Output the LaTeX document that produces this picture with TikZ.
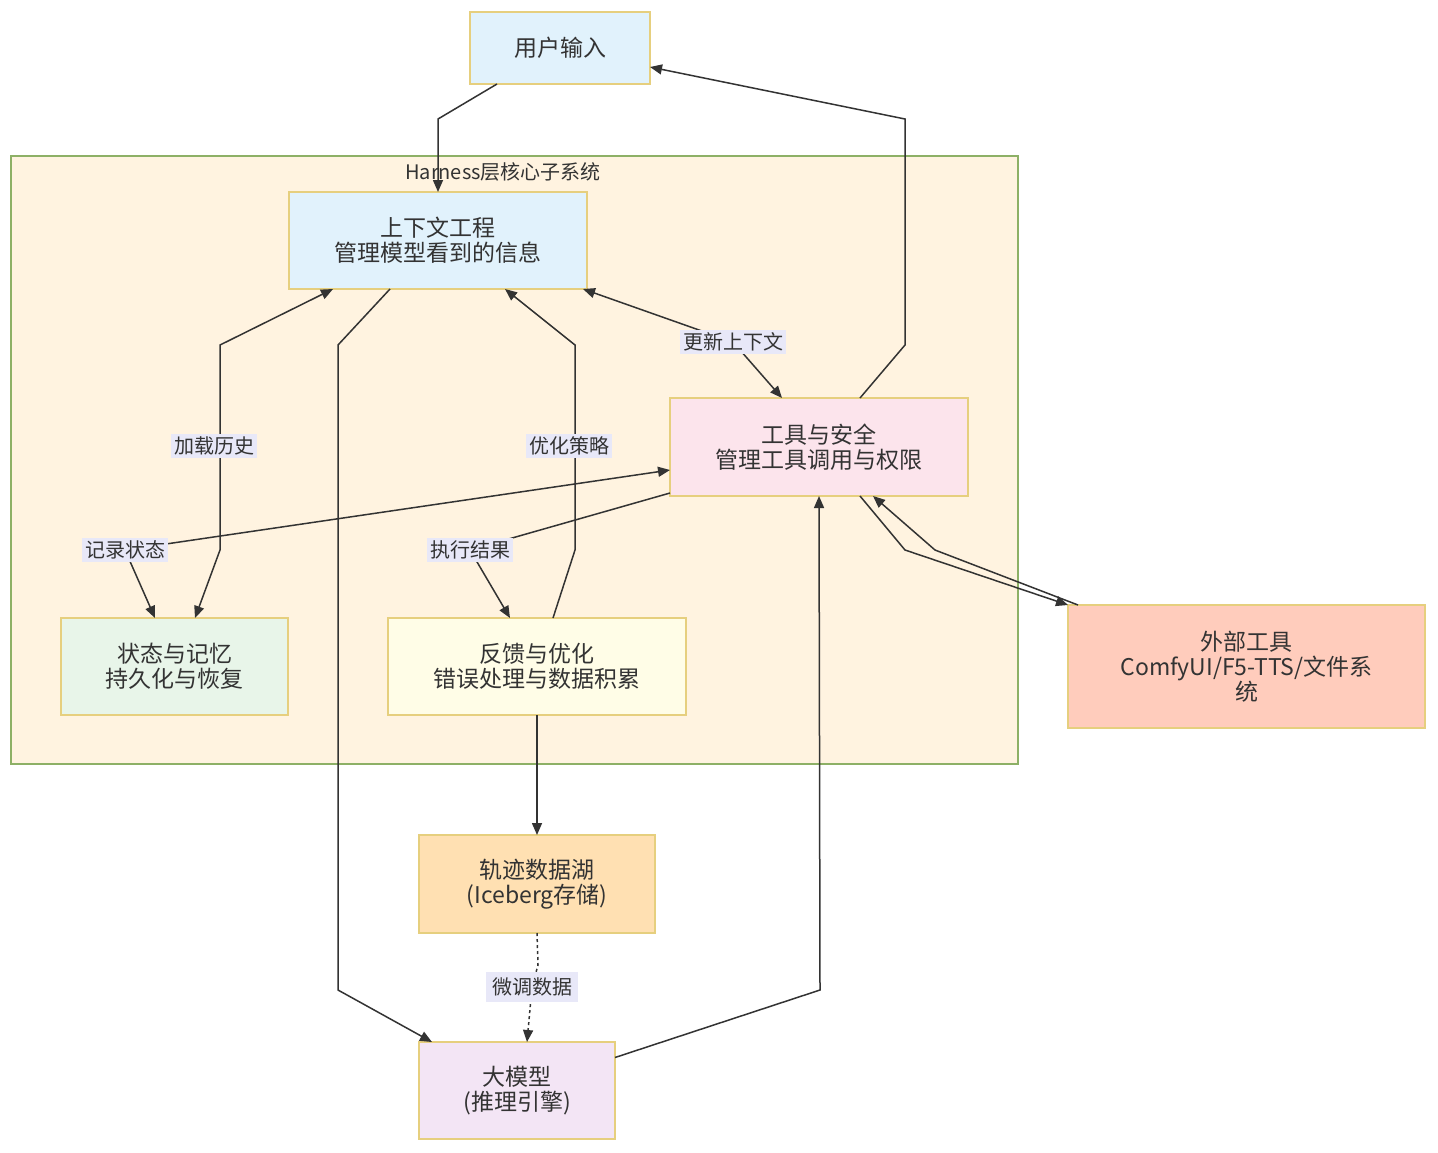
\documentclass[tikz,border=0pt]{standalone}
\usepackage{fontspec}
\setmainfont{Noto Sans CJK SC}
\usetikzlibrary{arrows.meta}

\definecolor{txt}{HTML}{333333}
\definecolor{boxline}{HTML}{E6CF7E}
\definecolor{grpline}{HTML}{8DB066}
\definecolor{grpfill}{HTML}{FFF3E0}
\definecolor{lblfill}{HTML}{E8E8F8}
\definecolor{cblue}{HTML}{E1F2FC}
\definecolor{cpink}{HTML}{FCE4EC}
\definecolor{cgreen}{HTML}{E8F5E9}
\definecolor{cyellow}{HTML}{FFFDE7}
\definecolor{csalmon}{HTML}{FFCCBC}
\definecolor{corange}{HTML}{FFE0B2}
\definecolor{cpurple}{HTML}{F3E5F5}

\begin{document}
\begin{tikzpicture}[x=0.5pt, y=-0.5pt]
      %% Styles for boxes and links
      \tikzset
      {
      box/.style={rectangle, draw=boxline, line width=0.6pt, inner sep=0pt, outer sep=0pt,
                  align=center, text=txt, font=\fontsize{11.5pt}{12.5pt}\selectfont},
      lbl/.style={rectangle, fill=lblfill, inner sep=1.5pt, text=txt, font=\fontsize{10pt}{11pt}\selectfont},
      link/.style={draw=txt, line width=0.75pt, -{Triangle[length=6pt, width=5pt]}},
      twolink/.style={link, {Triangle[length=6pt, width=5pt]}-{Triangle[length=6pt, width=5pt]}},
      % plain/.style = {-}
      }
      %% Canvas
      \useasboundingbox[fill=white] (0,0) rectangle (1438,1152);
      %% Group
      \draw[draw=grpline, fill=grpfill, line width=0.6pt] (11,156) rectangle (1018,764);
      \node[text=txt, font=\fontsize{10pt}{11pt}\selectfont] (title) at (503,172) {Harness层核心子系统};
      %% Boxes
      \node[box, fill=cblue, minimum width=90pt, minimum height=36pt] (input) at (560,48) {用户输入};
      \node[box, fill=cblue, minimum width=149pt, minimum height=48.5pt] (ctx) at (438,240.5) {上下文工程\\管理模型看到的信息};
      \node[box, fill=cpink, minimum width=149pt, minimum height=49pt] (tool) at (819,447) {工具与安全\\管理工具调用与权限};
      \node[box, fill=cgreen, minimum width=113.5pt, minimum height=48.5pt] (state) at (174.5,666.5) {状态与记忆\\持久化与恢复};
      \node[box, fill=cyellow, minimum width=149pt, minimum height=48.5pt] (fb) at (537,666.5) {反馈与优化\\错误处理与数据积累};
      \node[box, fill=csalmon, minimum width=178.5pt, minimum height=61.5pt] (ext) at (1246.5,666.5) {外部工具\\ComfyUI/F5-TTS/文件系\\统};
      \node[box, fill=corange, minimum width=118pt, minimum height=49pt] (lake) at (537,884) {轨迹数据湖\\(Iceberg存储)};
      \node[box, fill=cpurple, minimum width=98pt, minimum height=48.5pt] (llm) at (517,1090.5) {大模型\\(推理引擎)};
      %% Label spots
      \coordinate (cLoad) at (214,446);
      \coordinate (cRec) at (125,550);
      \coordinate (cOpt) at (569,446);
      \coordinate (cRes) at (470,550);
      \coordinate (cUpd) at (733,342);
      \coordinate (cTune) at (532,987);
      %% Links
      \draw[link] ([xshift=-31.5pt]input.south) -- (438,119) -- (ctx.north);
      \draw[link] ([xshift=20.5pt]tool.north) -- (905,345) -- (905,119) -- ([yshift=-9.5pt]input.east);
      \draw[twolink] ([xshift=-52.5pt]ctx.south) -- (220,345) -- (220,550) -- ([xshift=10.25pt]state.north);
      \draw[twolink] ([yshift=-11.5pt]tool.west) -- (cRec) -- ([xshift=-9.75pt]state.north);
      \draw[link] ([xshift=8pt]fb.north) -- (575,550) -- (575,345) -- ([xshift=33.5pt]ctx.south);
      \draw[link] ([yshift=-23pt]tool.west) -- (cRes) -- ([xshift=-13.5pt]fb.north);
      \draw[twolink] ([xshift=-2pt]ctx.south east) -- (cUpd) -- ([xshift=-18.5pt]tool.north);
      \draw[link] ([xshift=-24pt]ctx.south) -- (338,345) -- (338,990) -- ([xshift=-42.5pt]llm.north);
      \draw[link] ([yshift=16.5pt]llm.east) -- (820,990) -- (tool.south);
      \draw[link] ([xshift=20.5pt]tool.south) -- (905,550) -- (ext.north west);
      \draw[link] ([xshift=5pt]ext.north west) -- (935,550) -- ([xshift=27pt]tool.south);
      \draw[link] (fb.south) -- (lake.north);
      \draw[link, dash pattern=on 1.5pt off 1.5pt] (lake.south) -- (538,965) -- (cTune) -- ([xshift=5pt]llm.north);
      %% Link labels
      \node[lbl] (load) at (cLoad) {加载历史};
      \node[lbl] (rec) at (cRec) {记录状态};
      \node[lbl] (opt) at (cOpt) {优化策略};
      \node[lbl] (res) at (cRes) {执行结果};
      \node[lbl] (upd) at (cUpd) {更新上下文};
      \node[lbl, inner sep=3pt] (tune) at (cTune) {微调数据};
\end{tikzpicture}
\end{document}
